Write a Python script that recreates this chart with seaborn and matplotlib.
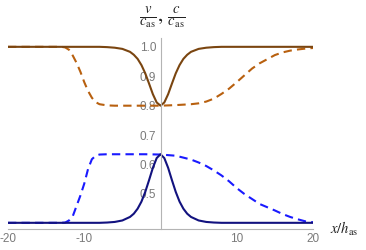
import numpy as np
import seaborn as sns
import matplotlib.pyplot as plt
from matplotlib.ticker import MultipleLocator, FixedLocator

# solid curves (shared x grid)
x_solid = [-20, -10, -8, -7, -6, -5, -4, -3.5, -3, -2.5, -2, -1.5, -1, -0.5, 0,
           0.5, 1, 1.5, 2, 2.5, 3, 3.5, 4, 5, 6, 7, 8, 10, 20]
v_solid = [1.0, 1.0, 1.0, 0.999, 0.997, 0.993, 0.983, 0.973, 0.959, 0.938, 0.910, 0.875, 0.839, 0.811, 0.800,
           0.811, 0.839, 0.875, 0.910, 0.938, 0.959, 0.973, 0.983, 0.993, 0.997, 0.999, 1.0, 1.0, 1.0]
c_solid = [0.402, 0.402, 0.402, 0.403, 0.405, 0.410, 0.422, 0.433, 0.450, 0.474, 0.507, 0.547, 0.589, 0.622, 0.635,
           0.622, 0.589, 0.547, 0.507, 0.474, 0.450, 0.433, 0.422, 0.410, 0.405, 0.403, 0.402, 0.402, 0.402]

# dashed curves
x_dash = [-20, -13, -12.5, -12, -11.5, -11, -10.5, -10, -9.5, -9, -8.5, -8, -7, -6, -4, -2, 0,
          2, 4, 5, 6, 7, 8, 9, 10, 11, 12, 13, 14, 15, 16, 17, 18, 19, 20]
v_dash = [1.0, 1.0, 0.998, 0.990, 0.970, 0.945, 0.915, 0.880, 0.850, 0.827, 0.812, 0.805, 0.801, 0.800, 0.800, 0.800, 0.800,
          0.802, 0.805, 0.808, 0.814, 0.824, 0.840, 0.858, 0.880, 0.903, 0.926, 0.944, 0.958, 0.972, 0.981, 0.987, 0.991, 0.994, 0.996]
c_dash = [0.402, 0.402, 0.403, 0.410, 0.425, 0.460, 0.495, 0.535, 0.585, 0.618, 0.630, 0.634, 0.635, 0.635, 0.635, 0.635, 0.634,
          0.630, 0.617, 0.607, 0.595, 0.580, 0.563, 0.543, 0.520, 0.500, 0.483, 0.466, 0.455, 0.444, 0.432, 0.422, 0.414, 0.407, 0.404]

sns.set_style("white")
plt.rcParams['font.family'] = ['Liberation Sans', 'DejaVu Sans']
plt.rcParams['mathtext.fontset'] = 'stix'
plt.rcParams['axes.unicode_minus'] = False

fig = plt.figure(figsize=(3.66, 2.5), dpi=100)
ax = fig.add_axes([8 / 366, 21 / 250, 305 / 366, 191 / 250])

lw = 1.5
sns.lineplot(x=x_dash, y=v_dash, ax=ax, color="#b8600f", lw=lw, linestyle=(0, (4, 2.5)), errorbar=None)
sns.lineplot(x=x_dash, y=c_dash, ax=ax, color="#1a1aff", lw=lw, linestyle=(0, (4, 2.5)), errorbar=None)
sns.lineplot(x=x_solid, y=v_solid, ax=ax, color="#7a4510", lw=lw, errorbar=None)
sns.lineplot(x=x_solid, y=c_solid, ax=ax, color="#12127f", lw=lw, errorbar=None)

ax.set_xlim(-20, 20)
ax.set_ylim(0.381, 1.03)

axis_col = "#b4b4b4"
for s in ["top", "right"]:
    ax.spines[s].set_visible(False)
ax.spines["left"].set_position(("data", 0))
for s in ["left", "bottom"]:
    ax.spines[s].set_color(axis_col)
    ax.spines[s].set_linewidth(0.8)

ax.xaxis.set_major_locator(FixedLocator([-20, -10, 10, 20]))
ax.xaxis.set_minor_locator(MultipleLocator(2))
ax.set_xticklabels(["-20", "-10", "10", "20"])
ax.yaxis.set_major_locator(FixedLocator([0.5, 0.6, 0.7, 0.8, 0.9, 1.0]))
ax.yaxis.set_minor_locator(MultipleLocator(0.02))
ax.set_yticklabels(["0.5", "0.6", "0.7", "0.8", "0.9", "1.0"])
ax.tick_params(which="both", direction="in", color=axis_col, width=0.7,
               labelcolor="#7a7a7a", labelsize=8.5)
ax.tick_params(which="major", length=4, pad=3)
ax.tick_params(which="minor", length=2.5)

ax.set_xlabel("")
ax.set_ylabel("")
fig.text(162 / 366, 1 - 18 / 250, r"$\frac{v}{c_{\rm as}},\,\frac{c}{c_{\rm as}}$",
         ha="center", va="center", fontsize=15, color="#222222")
fig.text(330 / 366, 1 - 229 / 250, r"$x/h_{\rm as}$",
         ha="left", va="center", fontsize=10.5, color="#222222")

fig.savefig("out.png", dpi=100)
